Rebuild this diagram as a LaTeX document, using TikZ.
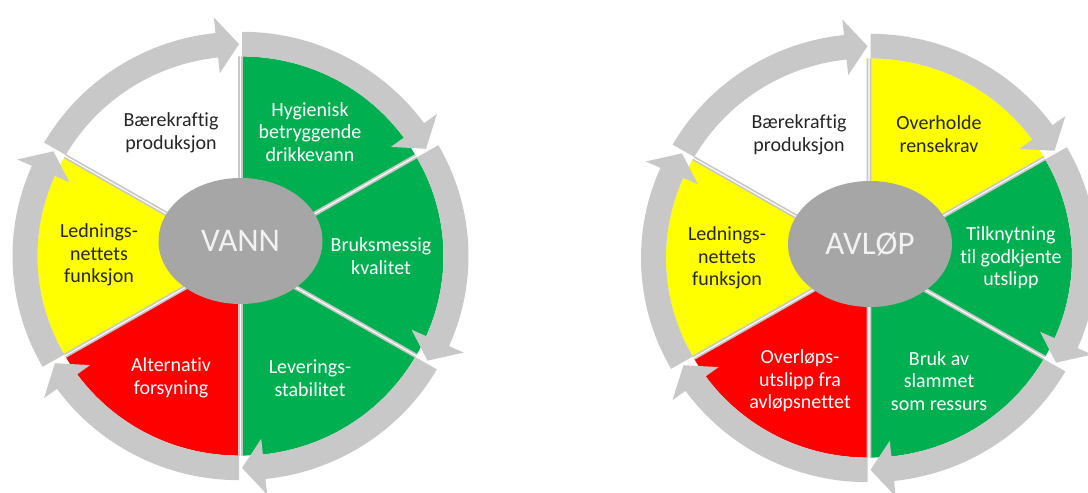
\documentclass[tikz,border=0pt]{standalone}
\usepackage{fontspec}
\setmainfont{Carlito}[Ligatures=NoCommon]
\usetikzlibrary{shapes.geometric}

\definecolor{ringgray}{HTML}{C8C8C8}
\definecolor{hubgray}{HTML}{A6A6A6}
\definecolor{okgreen}{HTML}{00B050}
\definecolor{warnyellow}{HTML}{FFFF00}
\definecolor{badred}{HTML}{FF0000}
\definecolor{darktext}{HTML}{262626}
\definecolor{hubtext}{HTML}{F2F2F2}

\tikzset{
  wedgeedge/.style={draw=ringgray, line width=1.6pt, line join=round},
  hub/.style={ellipse, fill=hubgray, minimum width=164pt, minimum height=126pt,
              inner sep=0pt, text=hubtext, font=\fontsize{33}{36}\selectfont},
  seglabel/.style={align=center, inner sep=0pt, font=\fontsize{20}{22.5}\selectfont},
  onlight/.style={seglabel, text=darktext},
  ondark/.style={seglabel, text=white}
}

% One segment of the cycle: coloured wedge plus a grey arc arrow on its rim.
% #1 = counter-clockwise edge angle, #2 = fill colour. Runs clockwise over 60 degrees.
\newcommand\cyclesegment[2]{%
  \pgfmathsetmacro\segS{#1}%
  \pgfmathsetmacro\segT{#1-60}%
  \pgfmathsetmacro\segM{#1-30}%
  \pgfmathsetmacro\segH{#1-54}%
  \begin{scope}[shift={(\segM:3pt)}]
    \fill[#2] (0pt,0pt) -- (\segS:200pt)
      arc[start angle=\segS, end angle=\segT, radius=200pt] -- cycle;
    \draw[wedgeedge] (\segS:200pt) -- (0pt,0pt) -- (\segT:200pt);
    \fill[ringgray] (\segS:200pt) -- (\segS:225pt)
      arc[start angle=\segS, end angle=\segH, radius=225pt]
      -- (\segH:241pt) -- (\segT:212.5pt) -- (\segH:184pt) -- (\segH:200pt)
      arc[start angle=\segH, end angle=\segS, radius=200pt] -- cycle;
  \end{scope}}

\begin{document}
\begin{tikzpicture}[x=1pt,y=1pt]
  \useasboundingbox (0,0) rectangle (1088,493);
  \clip (0,0) rectangle (1088,493);

  % ---- VANN cycle ----
  \begin{scope}[shift={(240.5,237)}, yscale=0.985]
    \cyclesegment{150}{white}
    \cyclesegment{90}{okgreen}
    \cyclesegment{30}{okgreen}
    \cyclesegment{-30}{okgreen}
    \cyclesegment{-90}{badred}
    \cyclesegment{-150}{warnyellow}
  \end{scope}
  \node[hub] (vann) at (240.5,252) {VANN};
  \node[onlight] (vprod) at (171,360) {Bærekraftig\\produksjon};
  \node[ondark]  (vhyg)  at (310,361) {Hygienisk\\betryggende\\drikkevann};
  \node[ondark]  (vbruk) at (381,237) {Bruksmessig\\kvalitet};
  \node[ondark]  (vlev)  at (310,115) {Leverings-\\stabilitet};
  \node[ondark]  (valt)  at (171,115) {Alternativ\\forsyning};
  \node[onlight] (vled)  at (99,238)  {Lednings-\\nettets\\funksjon};

  % ---- AVLØP cycle ----
  \begin{scope}[shift={(869,235)}, yscale=0.985]
    \cyclesegment{150}{white}
    \cyclesegment{90}{warnyellow}
    \cyclesegment{30}{okgreen}
    \cyclesegment{-30}{okgreen}
    \cyclesegment{-90}{badred}
    \cyclesegment{-150}{warnyellow}
  \end{scope}
  \node[hub] (avlop) at (870,249) {AVLØP};
  \node[onlight] (aprod) at (799,358)  {Bærekraftig\\produksjon};
  \node[onlight] (arens) at (939,359)  {Overholde\\rensekrav};
  \node[ondark]  (atilk) at (1011,235) {Tilknytning\\til godkjente\\utslipp};
  \node[ondark]  (aslam) at (939,112)  {Bruk av\\slammet\\som ressurs};
  \node[ondark]  (aover) at (800,112)  {Overløps-\\utslipp fra\\avløpsnettet};
  \node[onlight] (aled)  at (727,235)  {Lednings-\\nettets\\funksjon};
\end{tikzpicture}
\end{document}
